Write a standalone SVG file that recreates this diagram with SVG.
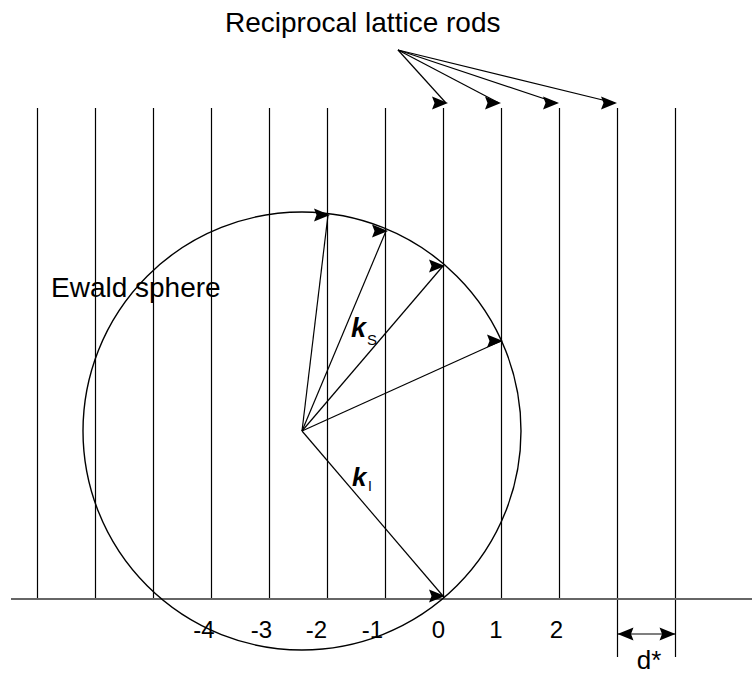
<svg xmlns="http://www.w3.org/2000/svg" width="752" height="675" viewBox="0 0 752 675">
  <style>
    .rod { stroke: #000; stroke-width: 1.2; fill: none; }
    .axis { stroke: #666; stroke-width: 2; fill: none; }
    .conn { stroke: #000; stroke-width: 1.2; fill: none; }
    .arr { marker-end: url(#head); }
    .lbl { font-family: "Liberation Sans", Arial, sans-serif; fill: #000; }
    .num { font-family: "Liberation Sans", Arial, sans-serif; font-size: 24px; fill: #000; text-anchor: middle; }
    .vec { font-family: "Liberation Sans", Arial, sans-serif; font-weight: bold; font-style: italic; fill: #000; }
    .sub { font-family: "Liberation Sans", Arial, sans-serif; fill: #000; }
  </style>
  <defs>
    <marker id="head" markerUnits="userSpaceOnUse" markerWidth="17" markerHeight="14" refX="14" refY="6.5" orient="0" overflow="visible">
      <path d="M0,0 L16,6.5 L0,13 L2.5,6.5 Z" fill="#000"/>
    </marker>
    <marker id="headR" markerUnits="userSpaceOnUse" markerWidth="17" markerHeight="14" refX="16" refY="6.5" orient="auto" overflow="visible">
      <path d="M0,0 L16,6.5 L0,13 L2.5,6.5 Z" fill="#000"/>
    </marker>
    <marker id="headL" markerUnits="userSpaceOnUse" markerWidth="17" markerHeight="14" refX="16" refY="6.5" orient="auto-start-reverse" overflow="visible">
      <path d="M0,0 L16,6.5 L0,13 L2.5,6.5 Z" fill="#000"/>
    </marker>
  </defs>

  <rect width="752" height="675" fill="#fff"/>

  <g id="rods">
    <line class="rod" x1="37.5" y1="108" x2="37.5" y2="599"/>
    <line class="rod" x1="95.5" y1="108" x2="95.5" y2="599"/>
    <line class="rod" x1="153.5" y1="108" x2="153.5" y2="599"/>
    <line class="rod" x1="211.5" y1="108" x2="211.5" y2="599"/>
    <line class="rod" x1="269.5" y1="108" x2="269.5" y2="599"/>
    <line class="rod" x1="327.5" y1="108" x2="327.5" y2="599"/>
    <line class="rod" x1="385.5" y1="108" x2="385.5" y2="599"/>
    <line class="rod" x1="443.5" y1="108" x2="443.5" y2="599"/>
    <line class="rod" x1="501.5" y1="108" x2="501.5" y2="599"/>
    <line class="rod" x1="559.5" y1="108" x2="559.5" y2="599"/>
    <line class="rod" x1="617.5" y1="108" x2="617.5" y2="657"/>
    <line class="rod" x1="675.5" y1="108" x2="675.5" y2="657"/>
  </g>

  <g id="axis">
    <line class="axis" x1="11" y1="599" x2="752" y2="599"/>
  </g>

  <g id="ewald-sphere">
    <circle cx="302" cy="431" r="219" fill="none" stroke="#000" stroke-width="1.4"/>
    <text class="lbl" x="51" y="297" font-size="28">Ewald sphere</text>
  </g>

  <g id="title">
    <text class="lbl" x="225" y="32" font-size="28">Reciprocal lattice rods</text>
  </g>

  <g id="connectors">
    <line class="conn arr" x1="398" y1="50" x2="446" y2="103"/>
    <line class="conn arr" x1="398" y1="50" x2="499" y2="103"/>
    <line class="conn arr" x1="398" y1="50" x2="557" y2="103"/>
    <line class="conn arr" x1="398" y1="50" x2="615" y2="103"/>
    <line class="conn arr" x1="302" y1="431" x2="328" y2="215"/>
    <line class="conn arr" x1="302" y1="431" x2="386" y2="231"/>
    <line class="conn arr" x1="302" y1="431" x2="443" y2="266"/>
    <line class="conn arr" x1="302" y1="431" x2="501" y2="341"/>
    <line class="conn arr" x1="302" y1="431" x2="443" y2="596"/>
    <line class="conn" x1="617.5" y1="634" x2="675.5" y2="634" marker-start="url(#headL)" marker-end="url(#headR)"/>
  </g>

  <g id="vector-labels">
    <text class="vec" x="351" y="337" font-size="27">k</text>
    <text class="sub" x="367" y="345" font-size="15">S</text>
    <text class="vec" x="352" y="486" font-size="26">k</text>
    <text class="sub" x="368" y="491" font-size="14">I</text>
  </g>

  <g id="rod-indices">
    <text class="num" x="204" y="638">-4</text>
    <text class="num" x="261.5" y="638">-3</text>
    <text class="num" x="316.5" y="638">-2</text>
    <text class="num" x="372.5" y="638">-1</text>
    <text class="num" x="438.5" y="638">0</text>
    <text class="num" x="496" y="638">1</text>
    <text class="num" x="556.5" y="638">2</text>
  </g>

  <g id="d-star">
    <text class="lbl" x="649" y="669" font-size="26" text-anchor="middle">d*</text>
  </g>
</svg>
